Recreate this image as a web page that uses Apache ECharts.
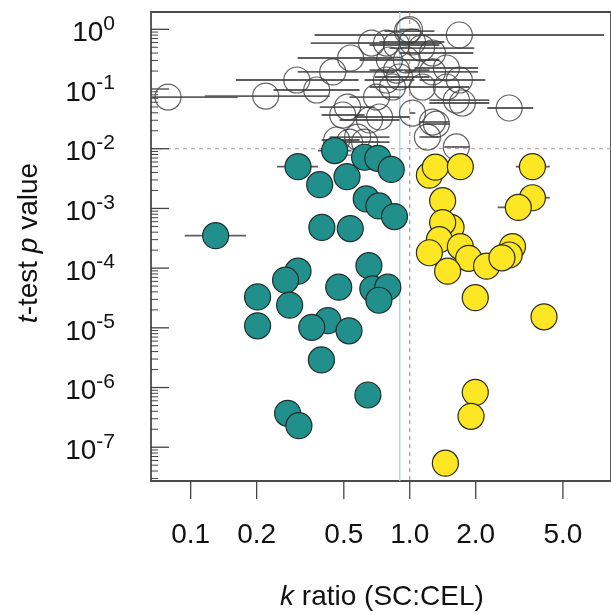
<!DOCTYPE html>
<html><head><meta charset="utf-8">
<script src="https://cdn.jsdelivr.net/npm/echarts@6/dist/echarts.min.js"></script>
<style>html,body{margin:0;padding:0;background:#fff}#c{width:611px;height:614px}</style>
</head><body><div id="c"></div>
<script>
// ---- data (k ratio, t-test p value, k ratio CI low/high) ----
const openK  = [0.0788,0.220,0.305,0.376,0.445,0.537,0.669,1.684,0.997,0.976,0.783,0.870,1.029,1.131,1.269,0.808,0.966,0.870,0.898,1.269,1.470,1.684,1.470,1.632,1.738,2.844,1.142,0.834,0.705,0.520,0.494,0.655,0.728,1.029,1.269,1.323,1.204,0.578,0.464,0.531,0.622,1.632,0.783];
const openP  = [0.0734,0.0763,0.1415,0.0962,0.193,0.331,0.589,0.803,0.99,0.93,0.589,0.546,0.613,0.486,0.401,0.306,0.306,0.208,0.159,0.193,0.225,0.1415,0.108,0.0654,0.0583,0.0481,0.108,0.108,0.0734,0.0499,0.0367,0.0303,0.034,0.0396,0.028,0.0259,0.0157,0.0157,0.014,0.0129,0.0129,0.0107,0.1415];
const openLo = [0.0588,0.116,0.161,0.239,0.308,0.308,0.353,0.368,0.90,0.767,0.531,0.655,0.728,0.808,0.898,0.590,0.728,0.655,0.691,0.946,1.05,1.107,1.05,1.229,1.229,2.259,0.898,0.655,0.531,0.388,0.396,0.478,0.560,0.997,1.107,1.166,1.107,0.431,0.396,0.431,0.478,1.437,0.622];
const openHi = [0.164,0.431,0.584,0.590,0.852,0.834,1.394,7.70,1.10,1.296,1.229,1.365,1.439,1.971,1.95,1.107,1.365,1.229,1.229,2.048,2.048,2.212,1.868,2.307,2.307,3.659,1.516,1.107,0.898,0.691,0.622,0.898,0.997,1.06,1.516,1.516,1.365,0.808,0.590,0.728,0.808,1.868,1.05];

const tealK  = [0.454,0.309,0.388,0.517,0.622,0.715,0.823,0.633,0.723,0.852,0.397,0.535,0.130,0.651,0.309,0.271,0.474,0.678,0.794,0.723,0.202,0.283,0.202,0.423,0.357,0.528,0.395,0.644,0.277,0.312];
const tealP  = [9.3e-3,5.0e-3,2.5e-3,3.4e-3,7.2e-3,6.9e-3,4.5e-3,1.44e-3,1.10e-3,7.3e-4,4.8e-4,4.6e-4,3.5e-4,1.10e-4,8.9e-5,6.3e-5,4.8e-5,4.5e-5,4.8e-5,2.9e-5,3.3e-5,2.4e-5,1.08e-5,1.32e-5,1.02e-5,8.9e-6,2.9e-6,7.5e-7,3.7e-7,2.3e-7];
const tealLo = [0.381,0.248,null,null,null,null,null,null,null,null,null,null,0.094,null,null,null,null,null,null,null,null,null,null,null,null,null,null,null,null,null];
const tealHi = [0.542,0.381,null,null,null,null,null,null,null,null,null,null,0.179,null,null,null,null,null,null,null,null,null,null,null,null,null,null,null,null,null];

const yellowK  = [1.229,1.309,1.702,3.63,3.63,3.13,1.413,1.543,1.413,1.365,1.229,1.702,1.857,1.489,2.242,2.944,2.844,2.635,1.991,4.10,1.991,1.904,1.454];
const yellowP  = [3.6e-3,4.9e-3,5.0e-3,5.0e-3,1.51e-3,1.04e-3,1.35e-3,4.8e-4,5.8e-4,3.0e-4,1.81e-4,2.3e-4,1.46e-4,8.9e-5,1.08e-4,2.3e-4,1.66e-4,1.49e-4,3.2e-5,1.53e-5,8.3e-7,3.3e-7,5.4e-8];
const yellowLo = [null,null,null,3.05,3.2,2.52,null,null,null,null,null,null,null,null,null,null,null,null,null,null,null,null,null];
const yellowHi = [null,null,null,4.36,4.36,3.8,null,null,null,null,null,null,null,null,null,null,null,null,null,null,null,null,null];

// axes
const xTicks = [0.1, 0.2, 0.5, 1, 2, 5];
const xTickLabels = ['0.1', '0.2', '0.5', '1.0', '2.0', '5.0'];
const yMajorTicks = [1, 1e-1, 1e-2, 1e-3, 1e-4, 1e-5, 1e-6, 1e-7];
const X_MIN = 0.0659, X_MAX = 8.29, Y_MIN = 2.72e-8, Y_MAX = 1.95;
const pThreshold = [0.01];
const kRefDashed = [1];
const kRefBlue = [0.9];

// ---- build ----
const FONT = "'Liberation Sans', Arial, Helvetica, sans-serif";
const yMinorTicks = [];
for (let e = -8; e <= 0; e++) for (let m = 2; m <= 9; m++) {
  const v = m * Math.pow(10, e);
  if (v >= Y_MIN && v <= Y_MAX) yMinorTicks.push(v);
}
function bars(K, P, L, H) {
  const out = [];
  for (let i = 0; i < K.length; i++) if (L[i] != null) out.push([K[i], P[i], L[i], H[i]]);
  return out;
}
const barData = bars(openK, openP, openLo, openHi).concat(bars(tealK, tealP, tealLo, tealHi), bars(yellowK, yellowP, yellowLo, yellowHi));
const zip = (a, b) => a.map((v, i) => [v, b[i]]);

const chart = echarts.init(document.getElementById('c'), null, {renderer: 'canvas'});
chart.setOption({
  animation: false,
  backgroundColor: '#fff',
  grid: {left: 151, top: 12, width: 461, height: 469, show: true, borderColor: '#4a4a4a', borderWidth: 1.8, backgroundColor: 'transparent'},
  xAxis: {type: 'log', logBase: 10, min: X_MIN, max: X_MAX, axisLine: {show: false}, axisTick: {show: false}, axisLabel: {show: false}, splitLine: {show: false}},
  yAxis: {type: 'log', logBase: 10, min: Y_MIN, max: Y_MAX, axisLine: {show: false}, axisTick: {show: false}, axisLabel: {show: false}, splitLine: {show: false}},
  graphic: [
    {type: 'text', x: 29, y: 243, rotation: Math.PI / 2, z: 10,
     style: {text: '{i|t}{n|-test }{i|p}{n| value}', align: 'center', verticalAlign: 'middle', fill: '#111',
       rich: {i: {fontStyle: 'italic', fontSize: 28, fontFamily: FONT, fill: '#111'}, n: {fontSize: 28, fontFamily: FONT, fill: '#111'}}}},
    {type: 'text', x: 382, y: 597, z: 10,
     style: {text: '{i|k}{n| ratio (SC:CEL)}', align: 'center', verticalAlign: 'middle', fill: '#111',
       rich: {i: {fontStyle: 'italic', fontSize: 28, fontFamily: FONT, fill: '#111'}, n: {fontSize: 28, fontFamily: FONT, fill: '#111'}}}}
  ],
  series: [
    { // horizontal threshold line
      type: 'custom', z: 1, silent: true, clip: true,
      data: pThreshold.map(v => [X_MIN, v]),
      renderItem: (params, api) => {
        const y = api.coord([X_MIN, api.value(1)])[1], cs = params.coordSys;
        return {type: 'line', shape: {x1: cs.x, y1: y, x2: cs.x + cs.width, y2: y}, style: {stroke: '#9e9e9e', lineWidth: 1, lineDash: [4, 4]}};
      }
    },
    { // vertical dashed line at k = 1
      type: 'custom', z: 1, silent: true, clip: true,
      data: kRefDashed.map(v => [v, 1e-3]),
      renderItem: (params, api) => {
        const x = api.coord([api.value(0), 1e-3])[0], cs = params.coordSys;
        return {type: 'line', shape: {x1: x, y1: cs.y, x2: x, y2: cs.y + cs.height}, style: {stroke: '#8a8a8a', lineWidth: 1, lineDash: [4, 4]}};
      }
    },
    { // vertical light blue line
      type: 'custom', z: 1, silent: true, clip: true,
      data: kRefBlue.map(v => [v, 1e-3]),
      renderItem: (params, api) => {
        const x = api.coord([api.value(0), 1e-3])[0], cs = params.coordSys;
        return {type: 'line', shape: {x1: x, y1: cs.y, x2: x, y2: cs.y + cs.height}, style: {stroke: '#a9d9ef', lineWidth: 1.5}};
      }
    },
    { // error bars
      type: 'custom', z: 2, silent: true, clip: true,
      data: barData,
      renderItem: (params, api) => {
        const p = api.value(1);
        const a = api.coord([api.value(2), p]), b = api.coord([api.value(3), p]);
        return {type: 'line', shape: {x1: a[0], y1: a[1], x2: b[0], y2: b[1]}, style: {stroke: '#5e5e5e', lineWidth: 1.8}};
      }
    },
    {type: 'scatter', z: 3, silent: true, symbol: 'circle', symbolSize: 26, data: zip(openK, openP),
     itemStyle: {color: 'rgba(255,255,255,0)', borderColor: '#3c3c3c', borderWidth: 1.2}},
    {type: 'scatter', z: 4, silent: true, symbol: 'circle', symbolSize: 26, data: zip(tealK, tealP),
     itemStyle: {color: '#21908C', borderColor: '#1d2e2d', borderWidth: 1.2, opacity: 1}},
    {type: 'scatter', z: 4, silent: true, symbol: 'circle', symbolSize: 26, data: zip(yellowK, yellowP),
     itemStyle: {color: '#FDE725', borderColor: '#2e2c14', borderWidth: 1.2, opacity: 1}},
    { // y axis ticks and labels
      type: 'custom', z: 6, silent: true, clip: false,
      data: yMajorTicks.map(v => [X_MIN, v, 1]).concat(yMinorTicks.map(v => [X_MIN, v, 0])),
      renderItem: (params, api) => {
        const v = api.value(1), major = api.value(2) === 1;
        const y = api.coord([X_MIN, v])[1], x0 = params.coordSys.x;
        const children = [{type: 'line', shape: {x1: x0, y1: y, x2: x0 + (major ? 18 : 7), y2: y}, style: {stroke: '#444', lineWidth: major ? 1.3 : 1}}];
        if (major) {
          const e = Math.round(Math.log10(v));
          children.push({type: 'text', x: x0 - 36, y: y + 4, style: {
            text: '{a|10}{b|' + (e === 0 ? '0' : String(e)) + '}', align: 'right', verticalAlign: 'middle', fill: '#111',
            rich: {a: {fontSize: 28, fontFamily: FONT, fill: '#111'}, b: {fontSize: 21, fontFamily: FONT, fill: '#111', padding: [0, 0, 19, 0]}}}});
        }
        return {type: 'group', children};
      }
    },
    { // x axis ticks and labels
      type: 'custom', z: 6, silent: true, clip: false,
      data: xTicks.map((v, i) => [v, Y_MIN, i]),
      renderItem: (params, api) => {
        const x = api.coord([api.value(0), Y_MIN])[0], cs = params.coordSys;
        const y0 = cs.y + cs.height;
        return {type: 'group', children: [
          {type: 'line', shape: {x1: x, y1: y0, x2: x, y2: y0 + 18}, style: {stroke: '#444', lineWidth: 1.3}},
          {type: 'text', x: x, y: 535, style: {text: xTickLabels[api.value(2)], align: 'center', verticalAlign: 'middle', fill: '#111', fontSize: 28, fontFamily: FONT}}
        ]};
      }
    }
  ]
});
</script></body></html>
